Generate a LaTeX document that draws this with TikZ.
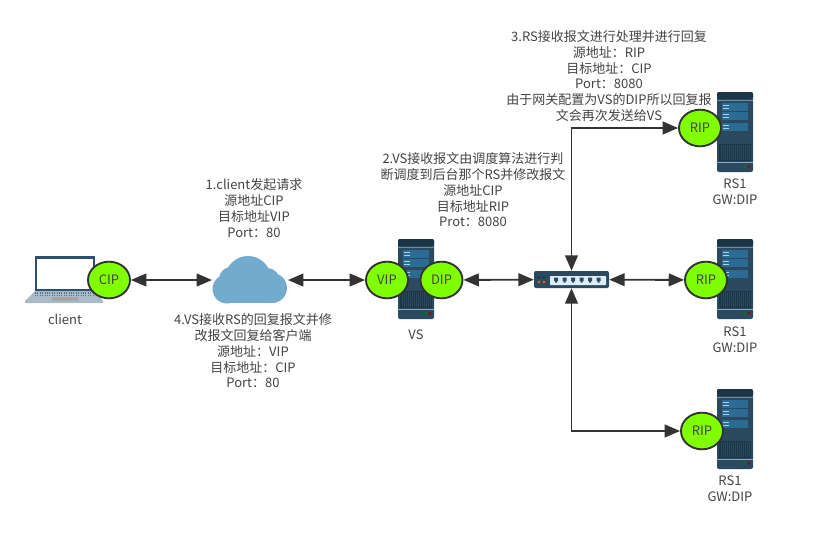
\documentclass[tikz,border=0pt]{standalone}
\usepackage{fontspec}
\setmainfont{Noto Sans CJK SC}
\usetikzlibrary{arrows.meta, shapes.geometric}

\definecolor{ipgreen}{HTML}{80FF00}
\definecolor{linegray}{HTML}{333333}
\definecolor{textgray}{HTML}{444444}
\definecolor{clouda}{HTML}{72ABCD}
\definecolor{srvdark}{HTML}{1B3547}
\definecolor{srvbody}{HTML}{2B4A5F}
\definecolor{srvblue}{HTML}{2C6C94}
\definecolor{srvlight}{HTML}{A9D3EA}
\definecolor{lapbase}{HTML}{A9BBC6}
\definecolor{lapframe}{HTML}{2E4F6E}

\tikzset{
	ipnode/.style={ellipse, draw=linegray, line width=1.4pt, fill=ipgreen, text=textgray, font=\fontsize{9.75}{11}\selectfont, minimum width=31.5pt, minimum height=27.5pt, inner sep=0pt},
	txt/.style={align=center, text=textgray, font=\fontsize{9.75}{11.8}\selectfont, inner sep=0pt},
	link/.style={draw=linegray, line width=1.4pt, {Triangle[length=11.5pt,width=9.5pt]}-{Triangle[length=11.5pt,width=9.5pt]}},
	pics/serverpic/.style={code={
		\fill [srvbody, rounded corners=1.5pt] (0,0) rectangle (36,80);
		\fill [srvdark, rounded corners=1.5pt] (0,0) rectangle (36,7);
		\fill [srvdark] (2,52) rectangle (34,69);
		\foreach \i in {4,6,...,32} {\draw [srvbody, line width=0.2pt] (\i,53) -- (\i,68);}
		\fill [srvlight!70!srvbody] (0,69.5) rectangle (36,70.5);
		\fill [srvlight!50!srvbody] (0,8) rectangle (36,9);
		\foreach \y in {11,20,31} {
			\fill [srvblue] (5,\y) rectangle (31,\y+7.5);
			\fill [srvlight] (6,\y+1.5) rectangle (12,\y+3);
			\fill [srvlight] (6,\y+4.5) rectangle (12,\y+6);
		}
		\fill [green!50!black] (27,74.5) circle (1pt);
		\fill [red!60!black] (32,74.5) circle (1pt);
	}}
}

\begin{document}
\begin{tikzpicture}[x=0.75pt, y=-0.75pt]
	\useasboundingbox (0,0) rectangle (819,533);
	\fill [white] (0,0) rectangle (819,533);

	% laptop
	\fill [lapframe] (35,256) rectangle (95,291);
	\fill [white] (37,259) rectangle (93,289);
	\fill [lapbase] (35,291) -- (95,291) -- (103,301) -- (103,303) -- (25,303) -- (25,301) -- cycle;
	\foreach \y in {293,295.5} {\draw [lapframe!80, densely dotted, line width=0.8pt] (35,\y) -- (95,\y);}
	\fill [gray!70] (52,297) rectangle (78,301);

	% cloud
	\fill [clouda] (248,279) circle [radius=23*0.75pt];
	\fill [clouda] (227,289) circle [radius=14.5*0.75pt];
	\fill [clouda] (272,288) circle [radius=15*0.75pt];
	\fill [clouda] (231,279) circle [radius=12*0.75pt];
	\fill [clouda] (267,281) circle [radius=13*0.75pt];
	\fill [clouda] (227,284) rectangle (272,303);

	% servers
	\pic at (398,239) {serverpic};
	\pic at (717,92) {serverpic};
	\pic at (717,239) {serverpic};
	\pic at (717,389) {serverpic};

	% switch
	\fill [srvbody, rounded corners=1.5pt] (534,271) rectangle (609,288);
	\fill [srvlight!40!white, rounded corners=0.5pt] (550,276) rectangle (606,285);
	\foreach \x in {556,564.5,573,581.5,590,598.5} {\fill [srvbody] (\x-2,277.5) rectangle (\x+2,281) (\x-1,281) rectangle (\x+1,282.5);}
	\fill [orange!80!red] (539,282) circle (1.1pt) (544,282) circle (1.1pt);
	\fill [srvdark] (537.5,276.5) rectangle (540.5,278) (542.5,276.5) rectangle (545.5,278);
	\node [inner sep=0pt, minimum width=56.25pt, minimum height=12.75pt] (switch) at (571.5,279.5) {};

	% ip circles
	\node [ipnode] (cip) at (109,280) {CIP};
	\node [ipnode] (vip) at (387,280) {VIP};
	\node [ipnode] (dip) at (441.5,280) {DIP};
	\node [ipnode] (rip1) at (700,128) {RIP};
	\node [ipnode] (rip2) at (706,280) {RIP};
	\node [ipnode] (rip3) at (702,431) {RIP};

	% anchors at the cloud edge
	\coordinate (cloudl) at (212,280);
	\coordinate (cloudr) at (288,280);

	\draw [link] (cip) -- (cloudl);
	\draw [link] (cloudr) -- (vip);
	\draw [link] (dip) -- (switch);
	\draw [link] (switch) -- (rip2);
	\draw [link] (switch.north) |- (rip1);
	\draw [link] (switch.south) |- (rip3);

	\node [txt] (lbclient) at (65,319) {client};
	\node [txt] (lbvs) at (416,335) {VS};
	\node [txt] (lbrsa) at (735,192) {RS1\\GW:DIP};
	\node [txt] (lbrsb) at (735,340) {RS1\\GW:DIP};
	\node [txt] (lbrsc) at (730,489) {RS1\\GW:DIP};

	\node [txt] (msga) at (254,208) {1.client发起请求\\源地址CIP\\目标地址VIP\\Port：80};
	\node [txt] (msgb) at (473,190) {2.VS接收报文由调度算法进行判\\断调度到后台那个RS并修改报文\\源地址CIP\\目标地址RIP\\Prot：8080};
	\node [txt] (msgc) at (609,76) {3.RS接收报文进行处理并进行回复\\源地址：RIP\\目标地址：CIP\\Port：8080\\由于网关配置为VS的DIP所以回复报\\文会再次发送给VS};
	\node [txt] (msgd) at (253,351) {4.VS接收RS的回复报文并修\\改报文回复给客户端\\源地址：VIP\\目标地址：CIP\\Port：80};
\end{tikzpicture}
\end{document}
